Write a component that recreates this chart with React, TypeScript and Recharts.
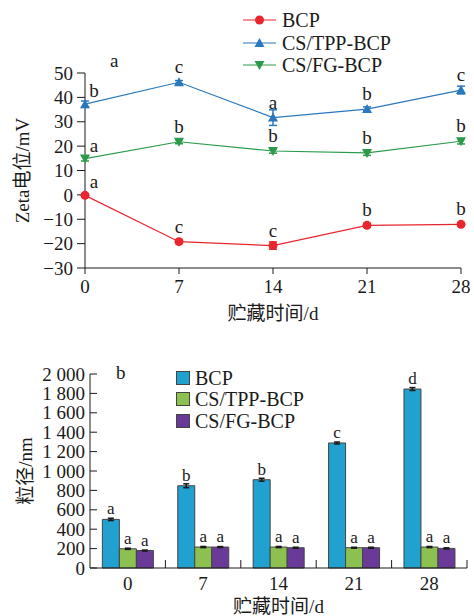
import { LineChart, Line, BarChart, Bar, XAxis, YAxis, ErrorBar, LabelList, Legend } from 'recharts'

const SERIF = "'Liberation Serif', 'Noto Sans CJK SC', serif"
const INK = '#1a1a1a'

// storage days
const days = [0, 7, 14, 21, 28]
const seriesNames = ['BCP', 'CS/TPP-BCP', 'CS/FG-BCP']

// zeta potential, mV
const zetaBCP = [-0.2, -19.2, -20.8, -12.5, -12.1]
const zetaTPP = [37.2, 46.2, 31.7, 35.2, 43.0]
const zetaFG = [14.9, 21.8, 18.0, 17.2, 22.0]
const zetaErrBCP = [0.6, 0.7, 1.5, 0.8, 0.6]
const zetaErrTPP = [1.3, 0.7, 3.2, 0.9, 1.6]
const zetaErrFG = [1.0, 0.8, 0.9, 1.0, 1.1]
const zetaSigBCP = ['a', 'c', 'c', 'b', 'b']
const zetaSigTPP = ['b', 'c', 'a', 'b', 'c']
const zetaSigFG = ['a', 'b', 'b', 'b', 'b']
const zetaTicks = [-30, -20, -10, 0, 10, 20, 30, 40, 50]

// particle size, nm
const sizeBCP = [501, 848, 910, 1289, 1845]
const sizeTPP = [198, 216, 216, 209, 216]
const sizeFG = [180, 216, 209, 209, 202]
const sizeErrBCP = [12, 20, 15, 10, 15]
const sizeErrTPP = [6, 6, 6, 5, 6]
const sizeErrFG = [5, 5, 5, 5, 6]
const sizeSigBCP = ['a', 'b', 'b', 'c', 'd']
const sizeSigTPP = ['a', 'a', 'a', 'a', 'a']
const sizeSigFG = ['a', 'a', 'a', 'a', 'a']
const sizeTicks = [0, 200, 400, 600, 800, 1000, 1200, 1400, 1600, 1800, 2000]

const RED = '#e8262d'
const BLUE = '#2a78bd'
const GREEN = '#2c9a4b'
const BAR_BLUE = '#21a1cf'
const BAR_GREEN = '#8cc152'
const BAR_PURPLE = '#6a3a98'

const zetaData = days.map((d, i) => ({
  day: d,
  bcp: zetaBCP[i], bcpErr: zetaErrBCP[i], bcpSig: zetaSigBCP[i],
  tpp: zetaTPP[i], tppErr: zetaErrTPP[i], tppSig: zetaSigTPP[i],
  fg: zetaFG[i], fgErr: zetaErrFG[i], fgSig: zetaSigFG[i],
}))

const sizeData = days.map((d, i) => ({
  day: String(d),
  bcp: sizeBCP[i], bcpErr: sizeErrBCP[i], bcpSig: sizeSigBCP[i],
  tpp: sizeTPP[i], tppErr: sizeErrTPP[i], tppSig: sizeSigTPP[i],
  fg: sizeFG[i], fgErr: sizeErrFG[i], fgSig: sizeSigFG[i],
}))

const markerKinds: Record<string, string> = { BCP: 'circle', 'CS/TPP-BCP': 'up', 'CS/FG-BCP': 'down' }

function Marker({ kind, cx, cy, color }: any) {
  if (kind === 'up') {
    return <polygon points={`${cx},${cy - 5} ${cx - 5},${cy + 4} ${cx + 5},${cy + 4}`} fill={color} />
  }
  if (kind === 'down') {
    return <polygon points={`${cx},${cy + 5} ${cx - 5},${cy - 4} ${cx + 5},${cy - 4}`} fill={color} />
  }
  return <circle cx={cx} cy={cy} r={4.5} fill={color} />
}

const dotOf = (kind: string, color: string) => (p: any) =>
  <Marker key={`${kind}-${p.index}`} kind={kind} cx={p.cx} cy={p.cy} color={color} />

const inOrder = (payload: any[]) =>
  [...(payload || [])].sort((a, b) => seriesNames.indexOf(a.value) - seriesNames.indexOf(b.value))

function PointLetter(props: any) {
  const { x, y, value, index } = props
  const first = index === 0
  return (
    <text x={x + (first ? 9 : 0)} y={y - (first ? 7 : 9)} textAnchor="middle" fontSize={19} fontFamily={SERIF} fill={INK}>
      {value}
    </text>
  )
}

function BarLetter(props: any) {
  const { x, y, width, value } = props
  return (
    <text x={x + width / 2} y={y - 5} textAnchor="middle" fontSize={17} fontFamily={SERIF} fill={INK}>
      {value}
    </text>
  )
}

function YTitle({ viewBox, text, left }: any) {
  const cy = viewBox.y + viewBox.height / 2
  return (
    <text transform={`translate(${left},${cy}) rotate(-90)`} textAnchor="middle" dominantBaseline="central" fontSize={19} fontFamily={SERIF} fill={INK}>
      {text}
    </text>
  )
}

function LineLegend({ payload }: any) {
  return (
    <div style={{ fontFamily: SERIF, fontSize: 20, color: INK }}>
      {inOrder(payload).map((e: any) => (
        <div key={e.value} style={{ display: 'flex', alignItems: 'center', height: 22.5 }}>
          <svg width={36} height={14}>
            <line x1={0} x2={33} y1={7} y2={7} stroke={e.color} strokeWidth={1.2} />
            <Marker kind={markerKinds[e.value]} cx={16.5} cy={7} color={e.color} />
          </svg>
          <span style={{ marginLeft: 3, lineHeight: 1 }}>{e.value}</span>
        </div>
      ))}
    </div>
  )
}

function BarLegend({ payload }: any) {
  return (
    <div style={{ fontFamily: SERIF, fontSize: 20, color: INK }}>
      {inOrder(payload).map((e: any) => (
        <div key={e.value} style={{ display: 'flex', alignItems: 'center', height: 21.5 }}>
          <span style={{ width: 12, height: 12, background: e.color, border: '1px solid #444', display: 'inline-block' }} />
          <span style={{ marginLeft: 5, lineHeight: 1 }}>{e.value}</span>
        </div>
      ))}
    </div>
  )
}

function SizeYTick(props: any) {
  const { x, y, payload } = props
  const v = payload.value
  const txt = v >= 1000 ? `${Math.floor(v / 1000)} ${String(v % 1000).padStart(3, '0')}` : String(v)
  return (
    <g>
      <line x1={x} x2={x + 7} y1={y} y2={y} stroke={INK} />
      <text x={x - 5} y={y} dy="0.35em" textAnchor="end" fontSize={19} fontFamily={SERIF} fill={INK}>{txt}</text>
    </g>
  )
}

function SizeXTick(props: any) {
  const { x, y, payload, width, visibleTicksCount } = props
  const half = width && visibleTicksCount ? width / visibleTicksCount / 2 : 37.7
  return (
    <g>
      <line x1={x + half} x2={x + half} y1={y} y2={y - 8} stroke={INK} />
      <text x={x} y={y + 22} textAnchor="middle" fontSize={19} fontFamily={SERIF} fill={INK}>{payload.value}</text>
    </g>
  )
}

const minus = (v: number) => (v < 0 ? `\u2212${-v}` : `${v}`)

export default function App() {
  const tick = { fontSize: 19, fontFamily: SERIF, fill: INK }
  return (
    <div style={{ position: 'absolute', left: 0, top: 0, width: 474, height: 616, background: '#fff', fontFamily: SERIF }}>
      <div style={{ position: 'absolute', left: 0, top: 0 }}>
        <LineChart width={474} height={330} data={zetaData} margin={{ top: 73, right: 13, left: 0, bottom: 10 }}>
          <XAxis
            dataKey="day"
            type="number"
            domain={[0, 28]}
            ticks={days}
            interval={0}
            height={52}
            tick={tick}
            tickSize={6}
            tickMargin={6}
            stroke={INK}
            label={{ value: '贮藏时间/d', position: 'insideBottom', offset: 0, fontSize: 19, fontFamily: SERIF, fill: INK }}
          />
          <YAxis
            type="number"
            domain={[-30, 50]}
            ticks={zetaTicks}
            interval={0}
            width={85}
            tick={tick}
            tickSize={8}
            tickMargin={4}
            tickFormatter={minus}
            stroke={INK}
            label={{ content: (p: any) => <YTitle viewBox={p.viewBox} text="Zeta电位/mV" left={22} /> }}
          />
          <Legend
            layout="vertical"
            align="center"
            verticalAlign="middle"
            wrapperStyle={{ left: 243, top: 9, width: 200 }}
            content={<LineLegend />}
          />
          <Line name="BCP" dataKey="bcp" stroke={RED} strokeWidth={1.2} dot={dotOf('circle', RED)} activeDot={false} isAnimationActive={false}>
            <ErrorBar dataKey="bcpErr" direction="y" width={4} stroke={RED} />
            <LabelList dataKey="bcpSig" content={<PointLetter />} />
          </Line>
          <Line name="CS/TPP-BCP" dataKey="tpp" stroke={BLUE} strokeWidth={1.2} dot={dotOf('up', BLUE)} activeDot={false} isAnimationActive={false}>
            <ErrorBar dataKey="tppErr" direction="y" width={4} stroke={BLUE} />
            <LabelList dataKey="tppSig" content={<PointLetter />} />
          </Line>
          <Line name="CS/FG-BCP" dataKey="fg" stroke={GREEN} strokeWidth={1.2} dot={dotOf('down', GREEN)} activeDot={false} isAnimationActive={false}>
            <ErrorBar dataKey="fgErr" direction="y" width={4} stroke={GREEN} />
            <LabelList dataKey="fgSig" content={<PointLetter />} />
          </Line>
        </LineChart>
        <span style={{ position: 'absolute', left: 110, top: 51, fontSize: 19, lineHeight: '20px', color: INK }}>a</span>
      </div>

      <div style={{ position: 'absolute', left: 0, top: 330 }}>
        <BarChart
          width={474}
          height={286}
          data={sizeData}
          margin={{ top: 44, right: 7, left: 0, bottom: 0 }}
          barCategoryGap="16.4%"
          barGap={0}
        >
          <XAxis
            dataKey="day"
            height={48}
            interval={0}
            tick={<SizeXTick />}
            tickLine={false}
            tickSize={0}
            tickMargin={0}
            stroke={INK}
            label={{ value: '贮藏时间/d', position: 'insideBottom', offset: 3, fontSize: 19, fontFamily: SERIF, fill: INK }}
          />
          <YAxis
            type="number"
            domain={[0, 2000]}
            ticks={sizeTicks}
            interval={0}
            width={90}
            tick={<SizeYTick />}
            tickLine={false}
            tickSize={0}
            tickMargin={0}
            stroke={INK}
            label={{ content: (p: any) => <YTitle viewBox={p.viewBox} text="粒径/nm" left={25} /> }}
          />
          <Legend
            layout="vertical"
            align="center"
            verticalAlign="middle"
            wrapperStyle={{ left: 176, top: 37, width: 200 }}
            content={<BarLegend />}
          />
          <Bar name="BCP" dataKey="bcp" fill={BAR_BLUE} stroke="#444" strokeWidth={1} isAnimationActive={false}>
            <ErrorBar dataKey="bcpErr" direction="y" width={3} stroke={INK} strokeWidth={1.5} />
            <LabelList dataKey="bcpSig" content={<BarLetter />} />
          </Bar>
          <Bar name="CS/TPP-BCP" dataKey="tpp" fill={BAR_GREEN} stroke="#444" strokeWidth={1} isAnimationActive={false}>
            <ErrorBar dataKey="tppErr" direction="y" width={3} stroke={INK} strokeWidth={1.5} />
            <LabelList dataKey="tppSig" content={<BarLetter />} />
          </Bar>
          <Bar name="CS/FG-BCP" dataKey="fg" fill={BAR_PURPLE} stroke="#444" strokeWidth={1} isAnimationActive={false}>
            <ErrorBar dataKey="fgErr" direction="y" width={3} stroke={INK} strokeWidth={1.5} />
            <LabelList dataKey="fgSig" content={<BarLetter />} />
          </Bar>
        </BarChart>
        <span style={{ position: 'absolute', left: 116, top: 33, fontSize: 19, lineHeight: '20px', color: INK }}>b</span>
      </div>
    </div>
  )
}
